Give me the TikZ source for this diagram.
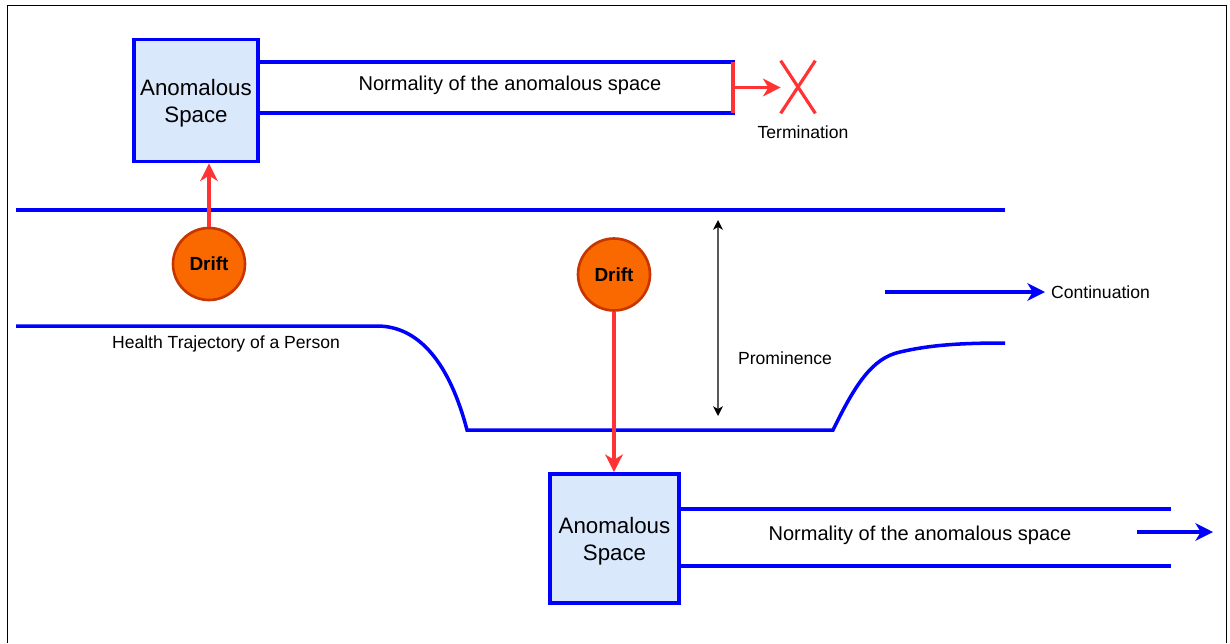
\documentclass[tikz,border=0pt]{standalone}
\usepackage{fontspec}
\setmainfont{Liberation Sans}
\usetikzlibrary{arrows.meta}

\definecolor{spacefill}{HTML}{DAE8FC}
\definecolor{pathblue}{HTML}{0000FF}
\definecolor{driftred}{HTML}{FF3333}
\definecolor{driftfill}{HTML}{FA6800}
\definecolor{driftedge}{HTML}{C73500}

\tikzstyle{space} = [rectangle, draw=pathblue, line width=2.2pt, fill=spacefill, minimum width=2.46cm, minimum height=2.44cm, align=center, text depth=0pt, font=\fontsize{12.7}{15.3}\selectfont]
\tikzstyle{drift} = [circle, draw=driftedge, line width=1.5pt, fill=driftfill, minimum size=1.44cm, inner sep=0pt, font=\bfseries\fontsize{10.8}{13}\selectfont]
\tikzstyle{bigtext} = [font=\fontsize{11.4}{13.5}\selectfont]
\tikzstyle{smalltext} = [font=\fontsize{10}{12}\selectfont]
\tikzstyle{channel} = [draw=pathblue, line width=2pt]
\tikzstyle{redline} = [draw=driftred, line width=1.8pt]
\tikzstyle{redarrow} = [redline, -{Stealth[length=10pt, width=10pt, inset=3pt]}]
\tikzstyle{bluearrow} = [channel, -{Stealth[length=10pt, width=10pt, inset=3pt]}]

\begin{document}
\begin{tikzpicture}[x=0.02cm, y=-0.02cm]
    \useasboundingbox (0,0) rectangle (1230,643);
    \draw [line width=0.9pt] (7.5,643) -- (7.5,5.5) -- (1226.5,5.5) -- (1226.5,643);

    % Nodes
    \node (topspace) [space] at (196,100.5) {Anomalous\\Space};
    \node (lowspace) [space, minimum width=2.58cm, minimum height=2.58cm] at (614.5,538.5) {Anomalous\\Space};
    \node (drift1) [drift] at (209,264) {Drift};
    \node (drift2) [drift] at (614,274.5) {Drift};
    \node (topnorm) [bigtext] at (510,85) {Normality of the anomalous space};
    \node (lownorm) [bigtext] at (920,535) {Normality of the anomalous space};
    \node (cross) [minimum width=0.68cm, minimum height=1.04cm, inner sep=0pt] at (798,87) {};
    \node (termination) [smalltext] at (803,132) {Termination};
    \node (health) [smalltext] at (226,344) {Health Trajectory of a Person};
    \node (prominence) [smalltext] at (785,358) {Prominence};
    \node (continuation) [smalltext, anchor=west] at (1045,292) {Continuation};

    \coordinate (topend1) at (735,62);
    \coordinate (topend2) at (735,113);
    \coordinate (stopbar) at (733,87.5);
    \coordinate (lowend1) at (1171,509);
    \coordinate (lowend2) at (1171,566);
    \coordinate (lowarrow) at (1137,532);
    \coordinate (contstart) at (885,292);
    \coordinate (promtop) at (718,220);
    \coordinate (prombot) at (718,416);

    % Normality channels
    \draw [channel] (topspace.east |- topend1) -- (topend1);
    \draw [channel] (topspace.east |- topend2) -- (topend2);
    \draw [channel] (lowspace.east |- lowend1) -- (lowend1);
    \draw [channel] (lowspace.east |- lowend2) -- (lowend2);

    % Termination
    \draw [redline] (733,62) -- (733,113);
    \draw [redarrow] (stopbar) -- (cross.west |- stopbar);
    \draw [redline] (cross.north west) -- (cross.south east);
    \draw [redline] (cross.north east) -- (cross.south west);

    % Health trajectory
    \draw [channel] (16,210) -- (1005,210);
    \draw [channel] (16,326) -- (377,326) .. controls (420,326) and (450,365) .. (467,430)
        -- (833,430) .. controls (855,385) and (872,358) .. (900,352)
        .. controls (930,345) and (960,343) .. (1005,343);

    % Arrows
    \draw [redarrow] (drift1) -- (drift1 |- topspace.south);
    \draw [redarrow] (drift2) -- (drift2 |- lowspace.north);
    \draw [black!65, line width=1pt, {Stealth[length=5.5pt, width=5.5pt, inset=1.5pt, black]}-{Stealth[length=5.5pt, width=5.5pt, inset=1.5pt, black]}] (promtop) -- (prombot);
    \draw [bluearrow] (contstart) -- (continuation.west |- contstart);
    \draw [bluearrow] (lowarrow) -- (1213,532);

\end{tikzpicture}
\end{document}
